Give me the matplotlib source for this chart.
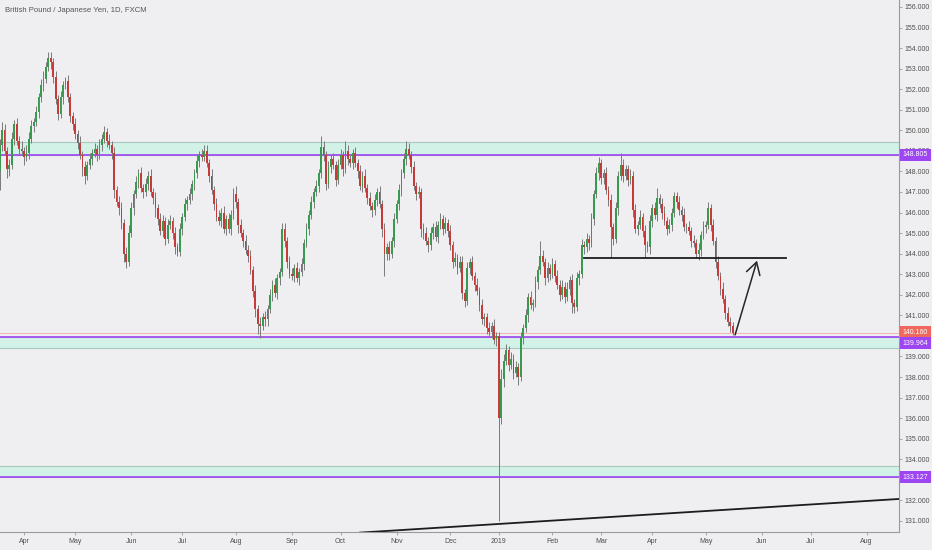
import numpy as np
import pandas as pd
import matplotlib
matplotlib.use('Agg')
import matplotlib.pyplot as plt
from matplotlib.transforms import blended_transform_factory

plt.rcParams['font.family'] = ['Liberation Sans', 'DejaVu Sans']

# GBP/JPY daily closes (Mar 19 2018 .. May 16 2019)
first_open = 148.0
closes_2018 = [
    149.3, 150.0, 149.0, 148.1, 148.3,  149.6, 150.3, 149.5, 149.1, 149.0,
    148.7, 148.9, 149.6, 150.2, 150.4,  150.9, 151.6, 152.2, 152.5, 153.1,
    153.5, 153.3, 152.6, 151.5, 150.8,  151.6, 152.2, 152.4, 151.6, 150.7,
    150.3, 149.8, 149.4, 148.8, 148.2,  147.8, 148.3, 148.6, 148.9, 149.1,
    148.8, 149.3, 149.6, 149.9, 149.5,  149.3, 148.9, 147.1, 146.5, 146.2,
    145.5, 144.0, 143.6, 145.0, 146.2,  146.9, 147.5, 147.9, 147.2, 147.0,
    147.4, 147.8, 147.0, 146.7, 146.2,  145.7, 145.1, 145.6, 144.7, 145.4,
    145.6, 145.0, 144.3, 144.1, 145.2,  145.8, 146.4, 146.6, 146.9, 147.4,
    147.9, 148.5, 148.8, 148.7, 149.0,  148.4, 147.8, 147.1, 146.4, 145.8,
    145.6, 146.0, 145.2, 145.7, 145.2,  145.9, 146.9, 146.5, 145.4, 145.0,
    144.6, 144.2, 143.9, 143.2, 142.2,  141.3, 140.6, 140.5, 140.9, 140.8,
    141.3, 142.0, 142.5, 142.1, 142.8,  143.1, 145.2, 144.6, 143.6, 143.0,
    142.9, 143.3, 142.8, 143.1, 143.5,  144.5, 145.2, 145.9, 146.5, 147.0,
    147.3, 147.9, 149.2, 148.8, 147.4,  148.2, 148.6, 148.3, 147.6, 148.3,
    148.8, 148.1, 149.0, 148.6, 148.4,  148.9, 148.4, 148.0, 147.3, 147.8,
    147.2, 146.7, 146.3, 146.1, 146.6,  147.0, 146.4, 145.2, 144.0, 144.3,
    144.0, 144.6, 145.7, 146.4, 147.1,  147.9, 148.6, 149.1, 148.8, 148.2,
    147.3, 146.9, 147.0, 145.2, 145.0,  144.6, 144.4, 145.0, 145.3, 144.8,
    145.4, 145.7, 145.2, 145.5, 145.1,  144.4, 143.6, 143.8, 143.3, 143.6,
    142.1, 141.7, 143.3, 143.6, 142.9,  142.5, 142.2, 141.5, 140.8, 140.9,
    140.4, 140.2, 140.5, 139.8, 140.0,
]
closes_2019 = [
    136.0, 137.9, 138.8,
    139.3, 138.6, 138.9, 138.2, 138.5,  138.0, 139.9, 140.4, 141.0, 141.9,
    141.5, 141.6, 142.6, 143.2, 143.9,  143.6, 142.8, 143.3, 143.0, 143.5,
    142.9, 142.5, 142.0, 142.4, 141.9,  142.3, 142.7, 141.6, 141.4, 142.8,
    143.0, 144.4, 144.3, 144.7, 144.5,  145.7, 146.9, 147.9, 148.4, 147.7,
    147.9, 147.1, 146.6, 145.3, 144.7,  146.2, 147.8, 148.3, 147.8, 148.1,
    147.6, 147.8, 146.1, 145.2, 145.4,  145.8, 145.1, 144.4, 144.3, 145.6,
    146.2, 145.9, 146.7, 146.4, 146.0,  145.6, 145.2, 145.4, 146.0, 146.8,
    146.5, 146.1, 145.9, 145.3, 145.3,  145.1, 144.6, 144.5, 144.0, 144.2,
    144.9, 145.3, 145.4, 146.2, 145.4,  144.6, 143.6, 142.9, 142.3, 141.8,
    141.1, 140.7, 140.5, 140.16,
]
# wick lengths in tenths of a yen (upper / lower)
wick_up = [
    3,4,3,2,3, 3,2,3,2,4, 2,4,3,3,2, 3,2,3,4,2, 3,3,2,3,2, 3,2,2,3,2,
    2,3,2,3,2, 3,2,3,2,3, 2,3,2,3,2, 3,2,3,2,3, 3,2,3,4,3, 2,3,2,3,2,
    3,2,3,2,3, 2,3,3,2,3, 3,2,3,2,3, 2,3,2,3,2, 2,3,2,3,3, 3,2,3,2,3,
    3,2,3,2,3, 2,3,4,2,3, 2,3,2,3,2, 3,2,3,2,3, 2,3,2,3,2, 2,3,3,2,3,
    3,2,3,2,3, 2,3,2,3,2, 3,2,5,3,2, 3,2,3,2,3, 3,2,5,3,2, 2,3,2,3,2,
    3,2,3,2,3, 2,3,2,3,2, 3,2,3,2,3, 2,3,4,3,2, 3,2,3,2,3, 3,2,3,2,3,
    2,3,2,3,2, 3,2,3,2,3, 3,2,3,2,3, 2,3,2,3,2, 2,3,2,3, 2,
    2,5,3, 3,2,3,2,3, 2,3,2,3,2, 3,2,3,2,7, 3,2,3,2,3, 2,3,2,3,2,
    3,2,3,2,3, 2,3,2,3,2, 3,2,3,3,2, 2,3,2,3,2, 3,2,6,3,2, 2,3,2,3,2,
    3,2,3,2,3, 2,3,5,2,3, 3,2,3,2,2, 2,3,2,3,2, 3,2,3,2,3, 2,3,2,3,2,
    3,2,3,2,3, 2,3,2,2,
]
wick_dn = [
    9,3,2,4,3, 2,3,2,3,2, 4,2,3,2,3, 2,3,2,3,2, 2,3,3,2,3, 2,3,2,2,3,
    3,2,3,2,4, 4,2,2,3,2, 3,2,3,2,3, 2,3,4,2,3, 3,4,3,2,2, 3,2,3,2,3,
    2,3,2,3,4, 3,2,3,3,2, 2,3,3,2,2, 3,2,3,2,3, 3,2,3,2,2, 2,3,2,3,2,
    2,3,2,3,2, 3,2,3,4,2, 3,2,3,2,3, 4,5,6,2,3, 3,2,3,2,3, 3,2,3,3,2,
    2,3,2,3,2, 3,2,3,2,3, 2,3,2,3,3, 2,3,2,3,2, 2,3,2,3,2, 3,2,3,2,3,
    2,3,2,3,2, 3,2,4,11,3, 3,2,3,2,3, 3,2,3,2,3, 2,3,2,4,3, 2,3,2,3,2,
    3,2,3,2,3, 2,3,2,3,2, 3,3,2,3,2, 3,2,3,2,3, 3,2,3,2, 3,
    50,3,4, 2,3,2,3,2, 4,2,3,2,3, 2,3,2,3,2, 2,3,2,3,2, 3,2,3,2,3,
    2,3,5,3,2, 3,2,3,2,3, 2,3,2,3,3, 3,2,3,15,3, 2,3,2,3,2, 3,2,3,2,3,
    2,3,6,2,3, 3,2,3,2,3, 2,3,2,3,2, 3,2,3,2,3, 2,3,2,2,3, 3,2,3,2,3,
    2,3,2,3,2, 3,2,3,1,
]

# horizontal zones drawn on the chart (price from, price to)
zone_top = (148.805, 149.43)
zone_mid = (139.42, 139.964)
zone_low = (133.127, 133.69)
levels = [148.805, 139.964, 133.127]
last_price = 140.16
y_ticks = [v for v in range(131, 157) if v not in (133, 140)]

# drawings: support line, trend line, arrow (date, price)
support = [('2019-02-20', 143.80), ('2019-06-17', 143.80)]
trend = [('2018-10-11', 130.43), ('2019-08-22', 132.08)]
arrow = [('2019-05-17', 140.05), ('2019-05-30', 143.66)]

closes = np.array(closes_2018 + closes_2019)
up = np.array(wick_up[:len(closes)]) * 0.1
dn = np.array(wick_dn[:len(closes)]) * 0.1
opens = np.r_[first_open, closes[:-1]]
highs = np.maximum(opens, closes) + up
lows = np.minimum(opens, closes) - dn

bday = pd.offsets.CustomBusinessDay(holidays=['2018-12-25', '2019-01-01'])
all_days = pd.date_range('2018-03-19', '2019-08-30', freq=bday)
idx = np.arange(len(closes))


def pos(d):
    return all_days.searchsorted(pd.Timestamp(d))


bg = '#efeff1'
green = '#379a4f'
red = '#c63a3a'
purple = '#9d45f0'

fig = plt.figure(figsize=(9.32, 5.5), dpi=100, facecolor=bg)
ax = fig.add_axes([0, 18 / 550, 899 / 932, 532 / 550], facecolor=bg)

# zones and levels
for lo, hi in (zone_top, zone_mid, zone_low):
    ax.axhspan(lo, hi, fc='#d2f1e7', ec='none', zorder=1)
    ax.axhline(hi, color='#a9c9c0', lw=0.8, zorder=1.2)
    ax.axhline(lo, color='#a9c9c0', lw=0.8, zorder=1.2)
ax.axhline(last_price, color='#f2b3b3', lw=0.7, zorder=1.5)
for lv in levels:
    ax.axhline(lv, color=purple, lw=1.2, zorder=1.6)

# candles
rising = closes >= opens
ax.vlines(idx, lows, highs, color='#7a7a7a', lw=0.7, zorder=2)
body_lo = np.minimum(opens, closes)
body_h = np.maximum(np.abs(closes - opens), 0.05)
ax.bar(idx[rising], body_h[rising], bottom=body_lo[rising], width=0.72,
       color=green, lw=0, zorder=3)
ax.bar(idx[~rising], body_h[~rising], bottom=body_lo[~rising], width=0.72,
       color=red, lw=0, zorder=3)

# drawings
ax.plot([pos(d) for d, p in support], [p for d, p in support],
        color='#1c1c1c', lw=1.3, zorder=4)
ax.plot([pos(d) for d, p in trend], [p for d, p in trend],
        color='#1c1c1c', lw=1.3, zorder=4)
ax.annotate('', xy=(pos(arrow[1][0]), arrow[1][1]),
            xytext=(pos(arrow[0][0]), arrow[0][1]),
            arrowprops=dict(arrowstyle='->,head_length=0.86,head_width=0.5',
                            color='#262626', lw=1.1, mutation_scale=10,
                            shrinkA=0, shrinkB=0), zorder=4)

ax.set_xlim(0.15, 369.3)
ax.set_ylim(130.46, 156.34)

# axes styling
for s in ('left', 'top'):
    ax.spines[s].set_visible(False)
for s in ('right', 'bottom'):
    ax.spines[s].set_color('#9a9a9a')
    ax.spines[s].set_linewidth(0.8)

ax.yaxis.tick_right()
ax.set_yticks(y_ticks)
ax.set_yticklabels([f'{v:.3f}' for v in y_ticks])
ax.tick_params(axis='y', length=2.2, width=0.6, color='#9a9a9a', pad=1.5,
               labelsize=5.0, labelcolor='#505050')

month_starts = pd.date_range('2018-04-01', '2019-08-01', freq='MS')
xt = [pos(m) for m in month_starts]
xl = ['2019' if m.year == 2019 and m.month == 1 else m.strftime('%b')
      for m in month_starts]
ax.set_xticks(xt)
ax.set_xticklabels(xl)
ax.tick_params(axis='x', length=2, width=0.6, color='#9a9a9a', pad=2.5,
               labelsize=5.0, labelcolor='#505050')

# price labels on the right scale
trans = blended_transform_factory(ax.transAxes, ax.transData)
tags = [(148.805, purple, 0), (last_price, '#f0675d', 0),
        (139.964, purple, -6.5), (133.127, purple, 0)]
for val, col, dy in tags:
    ax.annotate(f'{val:.3f}', xy=(1, val), xycoords=trans,
                xytext=(3.5, dy), textcoords='offset pixels',
                ha='left', va='center', fontsize=5.0, color='white',
                bbox=dict(boxstyle='square,pad=0.4', fc=col, ec='none'),
                annotation_clip=False, zorder=6)

fig.text(5 / 932, 1 - 11 / 550, 'British Pound / Japanese Yen, 1D, FXCM',
         fontsize=5.6, color='#555555', va='center', ha='left')

fig.savefig('out.png', dpi=100, facecolor=bg)
